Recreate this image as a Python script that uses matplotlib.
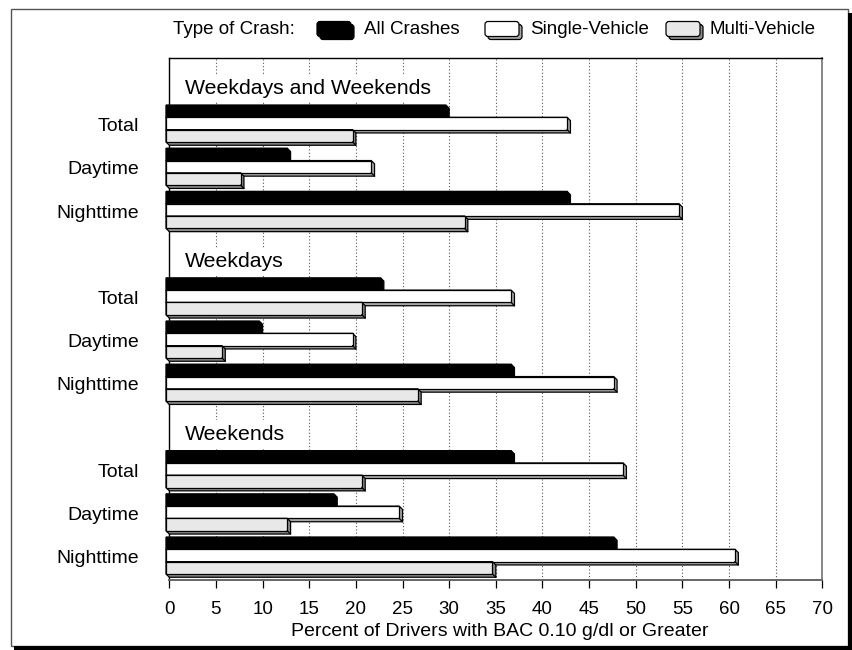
import matplotlib
matplotlib.use('Agg')
import matplotlib.pyplot as plt
from matplotlib.patches import Polygon, Rectangle, FancyBboxPatch
from matplotlib.lines import Line2D

plt.rcParams['font.family'] = ['Liberation Sans', 'DejaVu Sans']

# ---------------- data ----------------
sections = ["Weekdays and Weekends", "Weekdays", "Weekends"]
periods = ["Total", "Daytime", "Nighttime"]
series_names = ["All Crashes", "Single-Vehicle", "Multi-Vehicle"]
all_crashes = [30, 13, 43, 23, 10, 37, 37, 18, 48]
single_vehicle = [43, 22, 55, 37, 20, 48, 49, 25, 61]
multi_vehicle = [20, 8, 32, 21, 6, 27, 21, 13, 35]
x_ticks = list(range(0, 75, 5))
x_label = "Percent of Drivers with BAC 0.10 g/dl or Greater"
legend_title = "Type of Crash:"

# ---------------- style ----------------
face_colors = ["#000000", "#ffffff", "#e8e8e8"]
side_colors = ["#000000", "#a8a8a8", "#8c8c8c"]

W, H = 853, 650
fig = plt.figure(figsize=(W / 100, H / 100), dpi=100)
fig.patch.set_facecolor('white')

# background overlay in pixel coordinates (frame + legend)
bg = fig.add_axes([0, 0, 1, 1], zorder=0)
bg.set_xlim(0, W)
bg.set_ylim(H, 0)
bg.axis('off')

ax_l, ax_r, ax_t, ax_b = 169.3, 822.3, 58.3, 580.0
ax = fig.add_axes([ax_l / W, 1 - ax_b / H, (ax_r - ax_l) / W, (ax_b - ax_t) / H], zorder=1)

xmax = 70
px_per_x = (ax_r - ax_l) / xmax
slot_px = 43.2
slot0_px = 80.3
ax.set_xlim(0, xmax)
ax.set_ylim((ax_b - slot0_px) / slot_px, (ax_t - slot0_px) / slot_px)

depth_px = 3.3
dx = depth_px / px_per_x
dy = depth_px / slot_px
bh = 12.3 / slot_px


def draw_bar(v, yc, face, side, z):
    yt = yc - bh / 2
    yb = yc + bh / 2
    poly = [(-dx, yt), (v - dx, yt), (v, yt + dy), (v, yb + dy), (0, yb + dy), (-dx, yb)]
    ax.add_patch(Polygon(poly, closed=True, fc=side, ec='black', lw=0.9,
                         zorder=z, clip_on=False, joinstyle='miter'))
    ax.add_patch(Rectangle((-dx, yt), v, bh, fc=face, ec='black', lw=0.9,
                           zorder=z + 0.01, clip_on=False))
    ax.add_line(Line2D([v - dx, v], [yb, yb + dy], color='black', lw=0.9,
                       zorder=z + 0.02, clip_on=False))


series = [all_crashes, single_vehicle, multi_vehicle]
tick_pos = []
tick_lab = []
z = 3.0
for k, sec in enumerate(sections):
    title_slot = 4 * k
    ax.text(1.68, title_slot + 0.19, sec, fontsize=15.3, va='center', ha='left',
            zorder=2.6, bbox=dict(facecolor='white', edgecolor='none', pad=3))
    for j, per in enumerate(periods):
        slot = 4 * k + 1 + j
        idx = 3 * k + j
        tick_pos.append(slot + 0.03)
        tick_lab.append(per)
        for si in range(3):
            yc = slot + (si - 1) * bh
            draw_bar(series[si][idx], yc, face_colors[si], side_colors[si], z)
            z += 0.1

ax.set_xticks(x_ticks)
ax.set_xticklabels([str(t) for t in x_ticks])
ax.set_yticks(tick_pos)
ax.set_yticklabels(tick_lab)
ax.tick_params(axis='x', direction='out', length=5.8, width=0.9, pad=9,
               labelsize=13.5, colors='black')
ax.tick_params(axis='y', length=0, pad=21.8, labelsize=14)
ax.grid(axis='x', linestyle=(0, (1, 2)), color='#555555', lw=0.8)
ax.set_axisbelow(True)

ax.spines['left'].set_color('black')
ax.spines['top'].set_color('black')
ax.spines['right'].set_color('#888888')
ax.spines['bottom'].set_color('#666666')
for s in ax.spines.values():
    s.set_linewidth(1.0)
ax.spines['right'].set_linewidth(1.4)
ax.spines['bottom'].set_linewidth(1.4)

ax.set_xlabel(x_label, fontsize=14, va='center')
ax.xaxis.set_label_coords((499.4 - ax_l) / (ax_r - ax_l), (ax_b - 632) / (ax_b - ax_t))

# ---------------- outer frame with shadow ----------------
bg.add_patch(Rectangle((11, 9), 837, 637, fill=False, ec='#555555', lw=1.0))
bg.add_patch(Rectangle((848, 13), 4.5, 637.5, fc='black', ec='none'))
bg.add_patch(Rectangle((14, 646), 838.5, 4.5, fc='black', ec='none'))

# ---------------- legend ----------------
leg_y = 30
bg.text(173, leg_y, legend_title, fontsize=13.5, va='center', ha='left')
box_x = [317, 485, 666]
text_x = [364, 530, 710]
bw, bhh = 34, 15
for i in range(3):
    x0 = box_x[i]
    y0 = leg_y - bhh / 2 - 1
    bg.add_patch(FancyBboxPatch((x0 + 3, y0 + 3), bw, bhh,
                                boxstyle='round,pad=0,rounding_size=3',
                                fc=side_colors[i], ec='black', lw=0.9))
    bg.add_patch(FancyBboxPatch((x0, y0), bw, bhh,
                                boxstyle='round,pad=0,rounding_size=3',
                                fc=face_colors[i], ec='black', lw=0.9))
    bg.text(text_x[i], leg_y, series_names[i], fontsize=13.5, va='center', ha='left')

fig.savefig('out.png', dpi=100, facecolor='white')
